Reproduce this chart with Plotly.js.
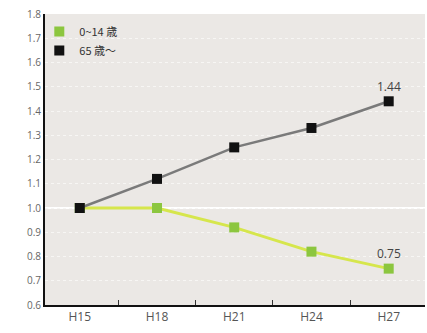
<!DOCTYPE html>
<html><head><meta charset="utf-8">
<script src="https://cdn.plot.ly/plotly-3.0.1.min.js"></script>
<style>html,body{margin:0;padding:0;background:#fff;}#c{width:427px;height:333px;}</style>
</head><body><div id="c"></div>
<script>
const categories = ["H15", "H18", "H21", "H24", "H27"];
const youth = [1.0, 1.0, 0.92, 0.82, 0.75];
const elderly = [1.0, 1.12, 1.25, 1.33, 1.44];
const youthName = "0~14 歳";
const elderlyName = "65 歳～";
const yTicks = [0.6,0.7,0.8,0.9,1.0,1.1,1.2,1.3,1.4,1.5,1.6,1.7,1.8];
const yTickText = ["0.6","0.7","0.8","0.9","1.0","1.1","1.2","1.3","1.4","1.5","1.6","1.7","1.8"];
const baseline = 1.0;

const last = categories.length - 1;
const traces = [
  {x: categories, y: youth, mode: "lines+markers", showlegend: false,
   line: {color: "#d6e64c", width: 3}, marker: {symbol: "square", size: 10, color: "#8cc63f"}},
  {x: categories, y: elderly, mode: "lines+markers", showlegend: false,
   line: {color: "#7a7a7a", width: 2.5}, marker: {symbol: "square", size: 10, color: "#111"}},
  {x: [null], y: [null], mode: "markers", name: youthName,
   marker: {symbol: "square", size: 10, color: "#8cc63f"}},
  {x: [null], y: [null], mode: "markers", name: elderlyName,
   marker: {symbol: "square", size: 10, color: "#111"}}
];

const layout = {
  width: 427, height: 333,
  margin: {l: 45, r: 2, t: 14, b: 28},
  paper_bgcolor: "#ffffff",
  plot_bgcolor: "#ebe8e5",
  font: {family: "Open Sans, DejaVu Sans, sans-serif", size: 9, color: "#555"},
  showlegend: true,
  legend: {x: -0.015, y: 0.99, xanchor: "left", yanchor: "top", bgcolor: "rgba(0,0,0,0)",
           font: {size: 11, color: "#333", family: "Noto Sans CJK JP, sans-serif"},
           tracegroupgap: 0, itemwidth: 30},
  xaxis: {type: "category", range: [-0.45, 4.47], showgrid: false,
          showline: true, linecolor: "#111", linewidth: 2,
          ticks: "inside", tickson: "boundaries", ticklen: 5, tickcolor: "#333",
          tickfont: {size: 12, color: "#555"}, fixedrange: true},
  yaxis: {range: [0.6, 1.8], tickvals: yTicks, ticktext: yTickText,
          showgrid: true, gridcolor: "#f7f6f4", griddash: "dot", gridwidth: 1,
          showline: true, linecolor: "#111", linewidth: 2, zeroline: false,
          ticks: "", tickfont: {size: 10, color: "#666"}},
  shapes: [{type: "line", xref: "paper", x0: 0, x1: 1, yref: "y", y0: baseline, y1: baseline,
            line: {color: "#ffffff", width: 2}, layer: "below"}],
  annotations: [
    {x: categories[last], y: elderly[last], text: elderly[last].toFixed(2), showarrow: false,
     yshift: 15, font: {size: 12, color: "#444"}},
    {x: categories[last], y: youth[last], text: youth[last].toFixed(2), showarrow: false,
     yshift: 15, font: {size: 12, color: "#444"}}
  ]
};
Plotly.newPlot("c", traces, layout, {displayModeBar: false, staticPlot: true});
</script></body></html>
